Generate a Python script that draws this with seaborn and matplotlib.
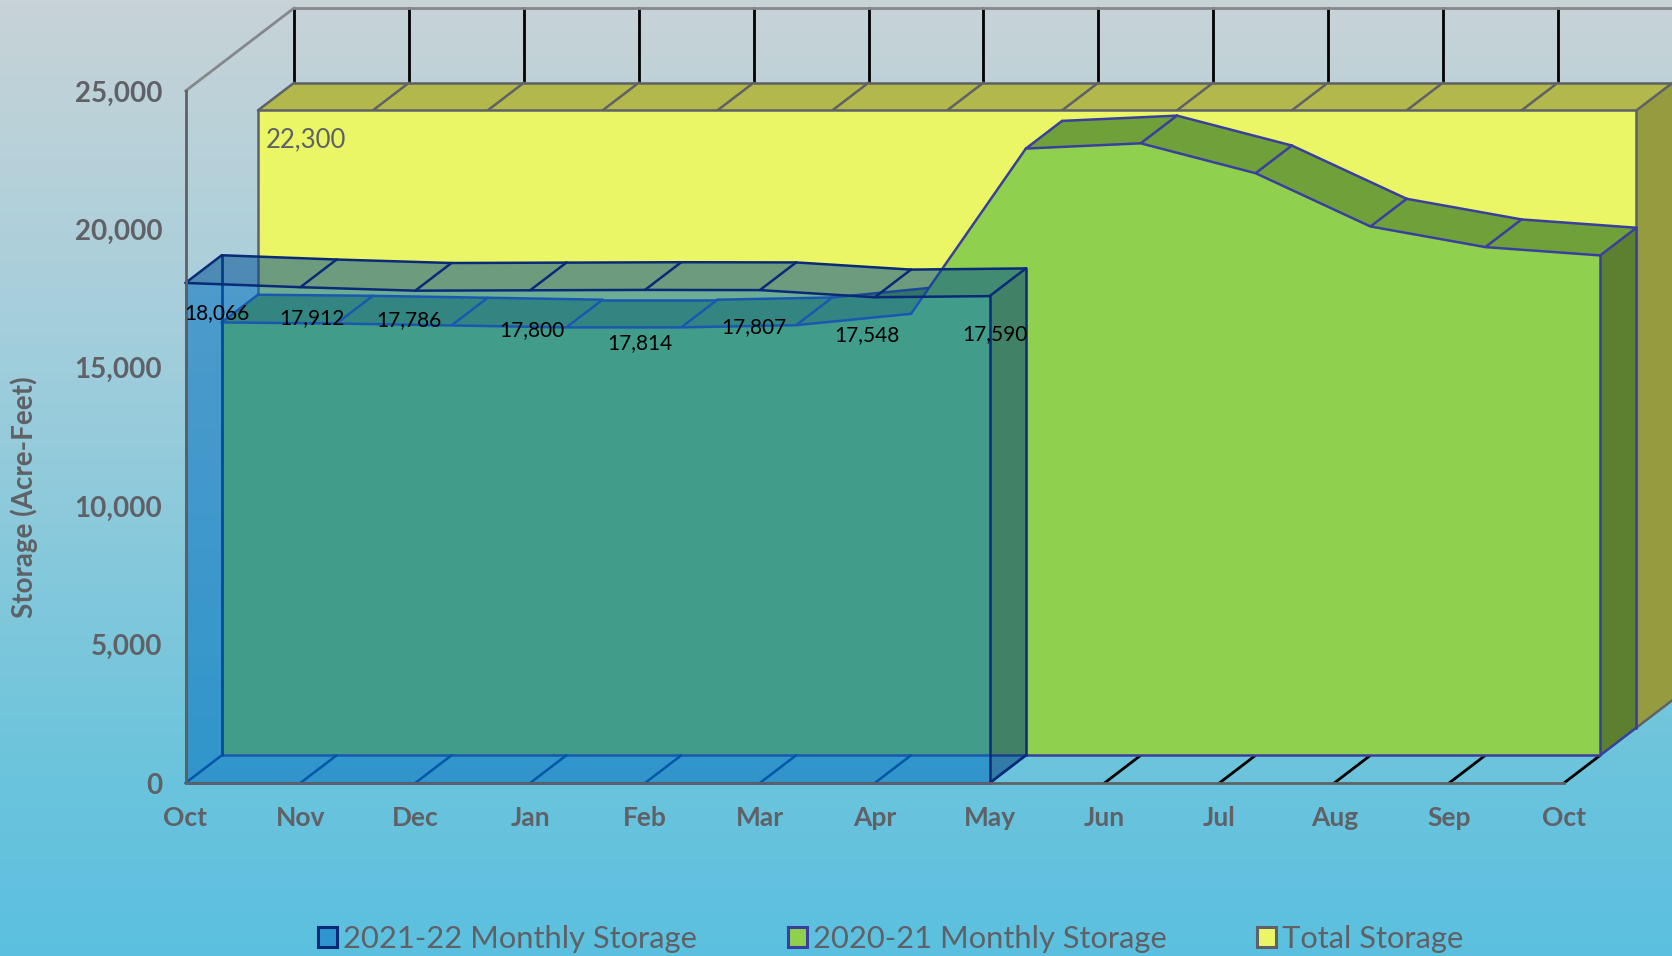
import numpy as np
import matplotlib.pyplot as plt
import seaborn as sns
from matplotlib.colors import LinearSegmentedColormap
from matplotlib.patches import Patch

months = ["Oct", "Nov", "Dec", "Jan", "Feb", "Mar", "Apr", "May",
          "Jun", "Jul", "Aug", "Sep", "Oct"]
storage_2021_22 = [18066, 17912, 17786, 17800, 17814, 17807, 17548, 17590]
storage_2020_21 = [15640, 15600, 15530, 15460, 15460, 15540, 15950,
                   21920, 22110, 21030, 19105, 18360, 18060]
total_storage = [22300] * 13
y_ticks = [0, 5000, 10000, 15000, 20000, 25000]

# fake 3D: every series sits one depth step further back
DX = 0.3154
DY = 1000

GRAY = "#5f6166"
FIG_W, FIG_H = 1672, 956

sns.set_theme(style="white")
plt.rcParams["font.family"] = ["Lato", "DejaVu Sans"]

fig = plt.figure(figsize=(FIG_W / 100, FIG_H / 100), dpi=100)

# background gradient
bg = fig.add_axes([0, 0, 1, 1], zorder=0)
bg_cmap = LinearSegmentedColormap.from_list(
    "bg", [(0, "#c8d3d7"), (0.3, "#a9cfdb"), (0.8, "#6cc4dc"), (1, "#5bc0e0")]
)
bg.imshow(np.linspace(0, 1, 256).reshape(-1, 1), cmap=bg_cmap, aspect="auto")
bg.axis("off")

ax = fig.add_axes(
    [185.5 / FIG_W, 1 - 783.0 / FIG_H, 1378.5 / FIG_W, 692 / FIG_H], zorder=1
)
ax.patch.set_alpha(0)
ax.set_xlim(0, 12)
ax.set_ylim(0, 25000)

# painter's order: whatever is drawn later sits on top
layer = [10]


def face(xs, ys, color, alpha=1.0):
    layer[0] += 1
    ax.fill(xs, ys, color=color, alpha=alpha, lw=0, clip_on=False, zorder=layer[0])


def edge(xs, ys, color, lw=2.0):
    layer[0] += 1
    sns.lineplot(x=xs, y=ys, ax=ax, color=color, lw=lw, sort=False, estimator=None,
                 clip_on=False, legend=False, zorder=layer[0])


def ribbon(values, depth, front, top, side, line, alpha=1.0, lw=1.8, floor_line=None):
    """Draw one series as a block between depth and depth + 1."""
    v = np.array(values, dtype=float)
    x = np.arange(len(v), dtype=float)
    x0, y0 = x + depth * DX, v + depth * DY
    x1, y1 = x + (depth + 1) * DX, v + (depth + 1) * DY
    base = depth * DY

    if floor_line:
        for i in range(len(v)):
            edge([x0[i], x1[i]], [base, base + DY], floor_line, lw)

    # right side
    face([x0[-1], x1[-1], x1[-1], x0[-1]],
         [y0[-1], y1[-1], base + DY, base], side, alpha)
    # top faces, a steep rise turns its top away from the viewer
    for i in range(len(v) - 1):
        if DY - (v[i + 1] - v[i]) * DX > 0:
            face([x0[i], x0[i + 1], x1[i + 1], x1[i]],
                 [y0[i], y0[i + 1], y1[i + 1], y1[i]], top, alpha)
            edge(x1[i:i + 2], y1[i:i + 2], line, lw)
    for i in range(len(v)):
        edge([x0[i], x1[i]], [y0[i], y1[i]], line, lw)
    edge([x1[-1], x1[-1]], [base + DY, y1[-1]], line, lw)
    edge([x0[-1], x1[-1]], [base, base + DY], line, lw)
    # front
    face(np.r_[x0, x0[-1], x0[0]], np.r_[y0, base, base], front, alpha)
    edge(x0, y0, line, lw)
    edge([x0[-1], x0[-1]], [base, y0[-1]], line, lw)
    edge([x0[0], x0[0]], [base, y0[0]], line, lw)
    edge([x0[0], x0[-1]], [base, base], line, lw)


# back wall
wall_top = 25000 + 3 * DY
wall_x = np.arange(13) + 3 * DX
for x in wall_x:
    edge([x, x], [total_storage[0] + 3 * DY, wall_top], "black", 2.0)
edge([3 * DX, 13 + 3 * DX], [wall_top, wall_top], "#85888c", 2.0)
edge([0, 3 * DX], [25000, wall_top], "#85888c", 2.0)

# floor lines that stay visible right of the blue block
for x in range(8, 13):
    edge([x, x + DX], [0, DY], "black", 2.0)

ribbon(total_storage, 2, "#ebf666", "#b2b84c", "#959c40", GRAY)
ribbon(storage_2020_21, 1, "#8fd14f", "#70a03a", "#5c8030", "#3a3f9e")
# blue block is see-through, its hidden back left edge shows
edge([DX, DX], [DY, storage_2021_22[0] + DY], "#0a2a78", 2.0)
ribbon(storage_2021_22, 0, "#006fbe", "#005092", "#003f7c", "#0a2a78",
       alpha=0.54, floor_line="#003a90")

# data labels, nudged off their points like the original (px)
label_nudge = [(31, -30), (12, -31), (-6, -29), (2, -40),
               (-5, -53), (-6, -37), (-8, -38), (5, -38)]
for i, v in enumerate(storage_2021_22):
    ax.annotate(f"{v:,}", (i, v), xytext=np.array(label_nudge[i]) * 0.72,
                textcoords="offset points", ha="center", va="center",
                fontsize=15, color="black", annotation_clip=False, zorder=1001)
ax.annotate(f"{total_storage[0]:,}", (2 * DX, total_storage[0] + 2 * DY),
            xytext=(5.5, -21.5), textcoords="offset points", ha="left", va="center",
            fontsize=18.5, color=GRAY, annotation_clip=False, zorder=1001)

# axes
sns.despine(ax=ax, top=True, right=True)
for side in ["left", "bottom"]:
    ax.spines[side].set_color(GRAY)
    ax.spines[side].set_linewidth(2)
    ax.spines[side].set_zorder(1000)
ax.xaxis.set_zorder(1000)
ax.yaxis.set_zorder(1000)
ax.set_xticks(np.arange(13))
ax.set_xticklabels(months)
ax.set_yticks(y_ticks)
ax.set_yticklabels([f"{t:,}" for t in y_ticks])
ax.tick_params(axis="x", direction="inout", length=11.5, width=1,
               color=GRAY, labelcolor=GRAY, labelsize=19, pad=10.5)
ax.tick_params(axis="y", direction="inout", length=11.5, width=1,
               color=GRAY, labelcolor=GRAY, labelsize=20, pad=11)
for lab in ax.get_xticklabels() + ax.get_yticklabels():
    lab.set_fontweight("bold")
ax.set_xlabel("")
ax.set_ylabel("Storage (Acre-Feet)", fontsize=20, fontweight="bold", color=GRAY)
ax.yaxis.set_label_coords(-147 / 1378, 0.413)

handles = [
    Patch(facecolor="#2f95d0", edgecolor="#0a2a78", lw=2.2, label="2021-22 Monthly Storage"),
    Patch(facecolor="#8fd14f", edgecolor="#3a3f9e", lw=2.2, label="2020-21 Monthly Storage"),
    Patch(facecolor="#ebf666", edgecolor=GRAY, lw=2.2, label="Total Storage"),
]
fig.legend(handles=handles, ncols=3, loc="lower left", bbox_to_anchor=(296.5 / FIG_W, -0.019),
           frameon=False, fontsize=22.2, labelcolor=GRAY, handlelength=0.62,
           handleheight=0.62, handletextpad=0.2, columnspacing=2.93, borderpad=0.2)

fig.savefig("out.png", dpi=100)
